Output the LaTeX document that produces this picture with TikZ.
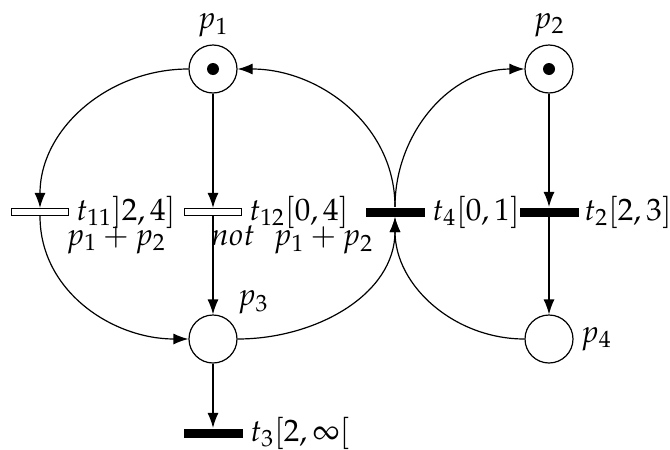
\documentclass[tikz,border=0pt]{standalone}
\usepackage{mathpazo}
\usetikzlibrary{arrows.meta,positioning}

\begin{document}
\begin{tikzpicture}
[
	x=0.5pt, y=-0.5pt,
	line width=0.6pt,
	every node/.style={font=\fontsize{15.5}{18}\selectfont},
	place/.style={circle,draw,minimum size=24pt,inner sep=0pt},
	token/.style={circle,fill,inner sep=0pt,minimum size=6pt},
	guardbar/.style={draw,fill=white,minimum width=28.5pt,minimum height=3.5pt,inner sep=0pt},
	timedbar/.style={fill=black,minimum width=29.5pt,minimum height=4.5pt,inner sep=0pt},
	arc/.style={-{Latex[length=7.5pt,width=5.5pt]}}
]

	\useasboundingbox (0,0) rectangle (670,450);

	% places
	\node[place] (p1) at (213,69) {};
	\node[place] (p2) at (549,69) {};
	\node[place] (p3) at (213,339) {};
	\node[place] (p4) at (549,339) {};
	\node[token] at (p1) {};
	\node[token] at (p2) {};

	\node[above=0pt of p1] (lp1) {$p_1$};
	\node[above=0pt of p2] (lp2) {$p_2$};
	\node[above right=0pt of p3] (lp3) {$p_3$};
	\node[right=0pt of p4] (lp4) {$p_4$};

	% transitions
	\node[guardbar] (t11) at (40,212) {};
	\node[guardbar] (t12) at (213,212) {};
	\node[timedbar] (t4) at (395,212) {};
	\node[timedbar] (t2) at (549,212) {};
	\node[timedbar] (t3) at (213,433) {};

	\node[right=0pt of t11] (lt11) {$t_{11}]2,4]$};
	\node[right=0pt of t12] (lt12) {$t_{12}[0,4]$};
	\node[right=0pt of t4] (lt4) {$t_4[0,1]$};
	\node[right=-1pt of t2] (lt2) {$t_2[2,3]$};
	\node[right=0pt of t3] (lt3) {$t_3[2,\infty[$};

	% guards
	\node (g11) at (116,240) {$p_1+p_2$};
	\node (g12) at (292,240) {$not\ \ p_1+p_2$};

	% arcs
	\draw[arc] (p1) to[out=180,in=90] (t11);
	\draw[arc] (t11) to[out=-90,in=180] (p3);
	\draw[arc] (p1) -- (t12);
	\draw[arc] (t12) -- (p3);
	\draw[arc] (p3) -- (t3);
	\draw[arc] (p3) to[out=0,in=-90] (t4);
	\draw[arc] (p4) to[out=180,in=-90] (t4);
	\draw[arc] (t4) to[out=90,in=0] (p1);
	\draw[arc] (t4) to[out=90,in=180] (p2);
	\draw[arc] (p2) -- (t2);
	\draw[arc] (t2) -- (p4);

\end{tikzpicture}
\end{document}
